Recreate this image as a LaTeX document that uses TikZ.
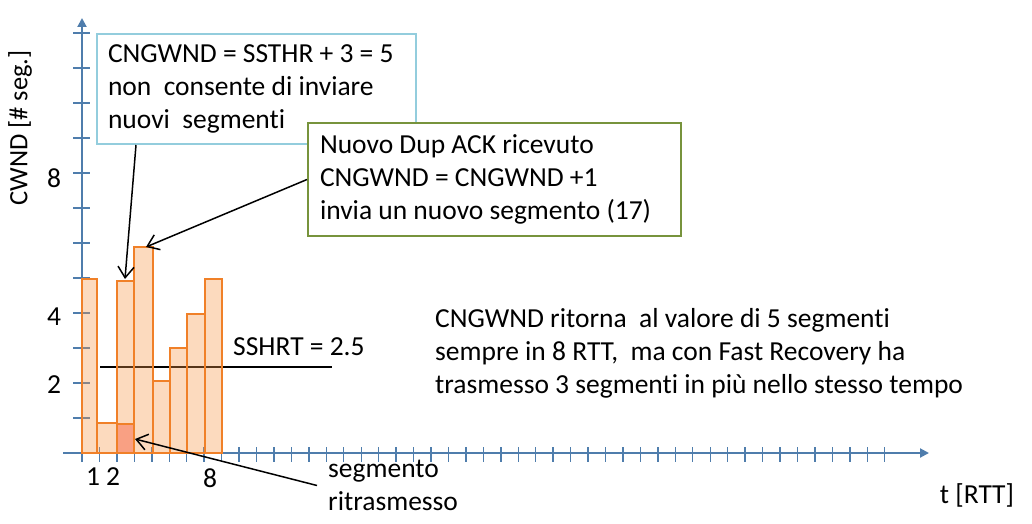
\documentclass[tikz,border=0pt]{standalone}
\usepackage{fontspec}
\setmainfont{Carlito}[Ligatures={TeX,NoCommon}]
\usetikzlibrary{arrows.meta}
\definecolor{axisblue}{RGB}{79,125,172}
\definecolor{boxblue}{RGB}{147,205,221}
\definecolor{boxgreen}{RGB}{119,147,60}
\definecolor{barorange}{RGB}{240,128,40}
\definecolor{barfill}{RGB}{247,150,70}
\definecolor{salmon}{RGB}{249,150,120}
\newcommand{\boxtext}[2]{\parbox[c]{#1}{\raggedright #2}}
\begin{document}
\begin{tikzpicture}[x=1pt,y=-1pt,
  axis/.style={axisblue,line width=2pt},
  tickmark/.style={axisblue,line width=1.4pt},
  bar/.style={draw=barorange,line width=1.8pt,fill=barfill,fill opacity=0.35},
  retx/.style={draw=barorange,line width=1.8pt,fill=salmon,fill opacity=0.85},
  basefont/.style={font=\fontsize{27.5}{33}\selectfont,inner sep=0pt},
  txt/.style={basefont,align=left},
  callout/.style={basefont,draw,line width=2pt,fill=white,anchor=north west,inner ysep=4pt},
  arr/.style={line width=1.5pt,-{Straight Barb[length=11pt,width=16pt]}},
  thr/.style={line width=1.4pt,black}]
\useasboundingbox (0,0) rectangle (1032,524);
% axes
\foreach \k in {1,...,46} \draw[tickmark] ({82+17.45*\k},447) -- ++(0,15);
\foreach \k in {1,...,12} \draw[tickmark] (73,{453-35*\k}) -- ++(17,0);
\draw[axis,-{Triangle[length=9pt,width=9pt]}] (63,453) -- (929,453);
\draw[axis,-{Triangle[length=9pt,width=9pt]}] (82,462) -- (82,18);
% threshold line
\draw[thr] (100,367) -- (332,367);
% bars
\draw[bar] (82,453) rectangle (97,279);
\draw[bar] (97,453) rectangle (117,423);
\draw[bar] (117,453) rectangle (134,281);
\draw[retx] (117,453) rectangle (134,424);
\draw[bar] (134,453) rectangle (153,247);
\draw[bar] (153,453) rectangle (170,381);
\draw[bar] (170,453) rectangle (187,348);
\draw[bar] (187,453) rectangle (205,314);
\draw[bar] (205,453) rectangle (222,279);
% tick labels
\node[txt] (y8) at (54,178) {8};
\node[txt] (y4) at (54,317) {4};
\node[txt] (y2) at (54,385) {2};
\node[txt] (x1) at (93,477) {1};
\node[txt] (x2) at (113,477) {2};
\node[txt] (x8) at (210,478) {8};
\node[txt,font=\fontsize{26.5}{32}\selectfont,rotate=90] (ylab) at (20,128) {CWND [\# seg.]};
\node[txt] (xlab) at (977,495) {t [RTT]};
\node[txt,anchor=base west] (sshrt) at (233,355) {SSHRT = 2.5};
% callouts
\node[callout,draw=boxblue,inner xsep=11pt,minimum height=110pt] (boxA) at (96,33)
  {\boxtext{297pt}{CNGWND = SSTHR + 3 = 5\\non~ consente di inviare\\nuovi~ segmenti}};
\node[callout,draw=boxgreen,inner xsep=12pt,minimum height=113pt] (boxB) at (307,122)
  {\boxtext{349pt}{Nuovo Dup ACK ricevuto\\CNGWND = CNGWND +1\\invia un nuovo segmento (17)}};
\node[txt,anchor=north west] (note) at (435,308)
  {CNGWND ritorna~ al valore di 5 segmenti\\sempre in 8 RTT,~ ma con Fast Recovery ha\\trasmesso 3 segmenti in più nello stesso tempo};
\node[txt,anchor=north west,inner xsep=11pt] (segtxt) at (317,460) {segmento\\ritrasmesso};
% arrow targets
\coordinate (tip1) at (125,279);
\coordinate (tip2) at (146,247);
\coordinate (tip3) at (135,439);
\draw[arr] ([xshift=40pt]boxA.south west) -- (tip1);
\draw[arr] (boxB.west) -- (tip2);
\draw[arr] (segtxt.west) -- (tip3);
\end{tikzpicture}
\end{document}
